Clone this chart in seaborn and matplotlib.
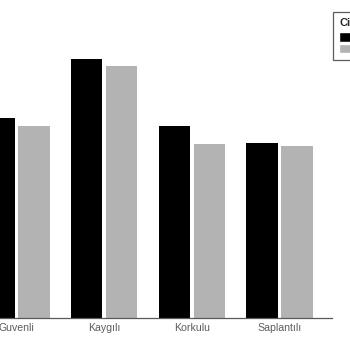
import matplotlib
matplotlib.use("Agg")
import matplotlib.pyplot as plt
import seaborn as sns
import pandas as pd
from matplotlib.patches import Patch

categories = ["Guvenli", "Kaygılı", "Korkulu", "Saplantılı"]
groups = ["Erkek", "Kadın"]
erkek = [24.0, 31.1, 23.1, 21.0]
kadin = [23.0, 30.3, 20.9, 20.6]
legend_title = "Cinsiyet"

df = pd.DataFrame({
    "Tip": categories * 2,
    "Cinsiyet": [groups[0]] * 4 + [groups[1]] * 4,
    "Deger": erkek + kadin,
})

sns.set_theme(style="white")
plt.rcParams["font.family"] = ["Liberation Sans", "DejaVu Sans"]

W = H = 350
fig = plt.figure(figsize=(3.5, 3.5), dpi=100)
left_px, right_px, top_px, base_px = -36, 332, 10, 317.7
ax = fig.add_axes([left_px / W, (H - base_px) / H, (right_px - left_px) / W, (base_px - top_px) / H])

sns.barplot(data=df, x="Tip", y="Deger", hue="Cinsiyet", order=categories,
            hue_order=groups, palette=["#000000", "#b3b3b3"], width=0.8, gap=0.1,
            linewidth=0, errorbar=None, ax=ax, legend=False)

ax.set_xlim(-0.6, 3.6)
ax.set_ylim(0, 37)
ax.set_xlabel("")
ax.set_ylabel("")
ax.set_yticks([])
for s in ["top", "right", "left"]:
    ax.spines[s].set_visible(False)
ax.spines["bottom"].set_color("#5a5a5a")
ax.spines["bottom"].set_linewidth(0.9)
ax.tick_params(axis="x", length=0, pad=4, labelsize=7.6, labelcolor="#5c5c5c")

handles = [Patch(facecolor="#000000"), Patch(facecolor="#b3b3b3")]
leg = fig.legend(handles, groups, title=legend_title, loc="upper left",
                 bbox_to_anchor=(333 / W, 1 - 12 / H), borderaxespad=0,
                 fontsize=7.2, title_fontproperties={"weight": "bold", "size": 8},
                 frameon=True, fancybox=False, edgecolor="#333333",
                 handlelength=1.2, handleheight=1.1, labelspacing=0.12,
                 borderpad=0.6, handletextpad=0.4)
leg.get_frame().set_linewidth(0.9)
leg._legend_box.align = "left"
leg._legend_box.sep = 3

fig.savefig("out.png", dpi=100)
